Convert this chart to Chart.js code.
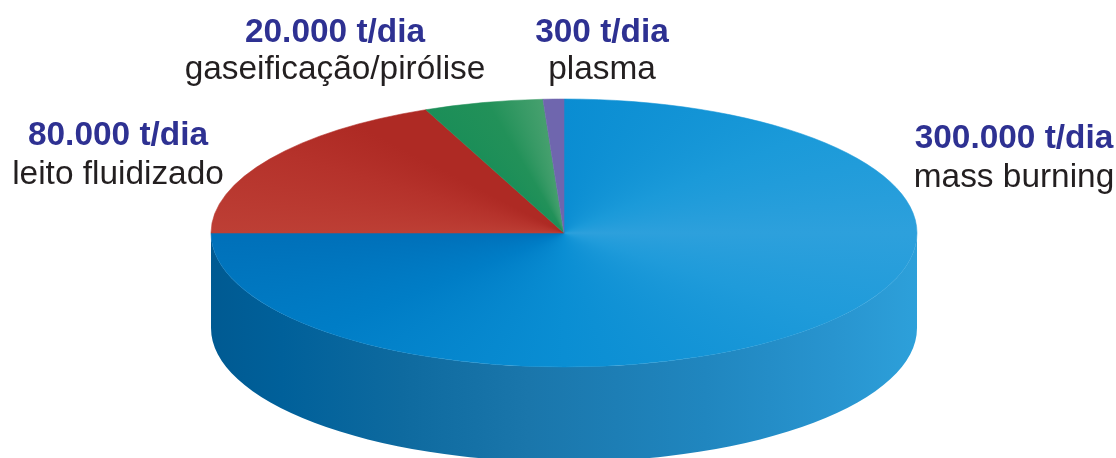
<!DOCTYPE html>
<html>
<head>
<meta charset="utf-8">
<style>
html,body{margin:0;padding:0;background:#fff;}
#wrap{width:1116px;height:458px;overflow:hidden;}
</style>
<script src="https://cdn.jsdelivr.net/npm/chart.js@4"></script>
</head>
<body>
<div id="wrap"><canvas id="c" width="1116" height="458"></canvas></div>
<script>
// Data
const categories = ["mass burning", "leito fluidizado", "gaseificação/pirólise", "plasma"];
const tonnageLabels = ["300.000 t/dia", "80.000 t/dia", "20.000 t/dia", "300 t/dia"];
const sliceShares = [75, 18.6, 5.45, 0.95];   // share of the drawn circle, percent

// Look
const CX = 564, CY = 233, RX = 353, RY = 134, DEPTH = 95;
const K = RY / RX;
const navy = "#2e3192", ink = "#231f20";
const labelFont = "'Liberation Sans', Arial, sans-serif";
// x centre, baseline of tonnage line, baseline of name line
const labelPos = [[1014,148,187],[118,145,184],[335,42,79],[602,42,79]];

function conic(ctx, stops){
  const g = ctx.createConicGradient(-Math.PI/2, CX, CY);
  stops.forEach(s => g.addColorStop(s[0], s[1]));
  return g;
}
const sliceStops = [
  [[0,"#0a8dd2"],[0.12,"#1b9ad9"],[0.25,"#2da0dc"],[0.36,"#1f9bda"],[0.5,"#0a8ed3"],[0.62,"#007dc6"],[0.75,"#0070b9"],[1,"#0070b9"]],
  [[0,"#bd3f35"],[0.75,"#bd3f35"],[0.85,"#b5322b"],[0.9,"#ae2a24"],[1,"#ae2a24"]],
  [[0,"#1b8e58"],[0.936,"#1b8e58"],[0.965,"#229159"],[0.98,"#389a66"],[0.9905,"#46a06e"],[1,"#46a06e"]],
  [[0,"#6f66ae"],[1,"#6f66ae"]]
];
const fill = c => conic(c.chart.ctx, sliceStops[c.dataIndex] || sliceStops[0]);

const pie3d = {
  id: "pie3d",
  beforeDatasetsDraw(chart){
    const ctx = chart.ctx;
    ctx.save();
    ctx.translate(CX, CY); ctx.scale(1, K); ctx.translate(-CX, -CY);
    // side wall of the front part of the first arc (it is the only one that reaches the front)
    const wall = ctx.createLinearGradient(CX - RX, 0, CX + RX, 0);
    [[0,"#005a92"],[0.1,"#00609a"],[0.27,"#0e6a9f"],[0.45,"#1a76ab"],[0.7,"#2086bf"],[0.88,"#2894cf"],[1,"#2da0da"]]
      .forEach(s => wall.addColorStop(s[0], s[1]));
    const d = DEPTH / K;
    const a = chart.getDatasetMeta(0).data[0];
    ctx.beginPath();
    ctx.arc(a.x, a.y, a.outerRadius, 0, Math.PI);
    ctx.arc(a.x, a.y + d, a.outerRadius, Math.PI, 0, true);
    ctx.closePath();
    ctx.fillStyle = wall;
    ctx.fill();
  },
  afterDatasetsDraw(chart){ chart.ctx.restore(); },
  afterDraw(chart){
    const ctx = chart.ctx;
    ctx.save();
    ctx.textAlign = "center";
    ctx.textBaseline = "alphabetic";
    categories.forEach((name, i) => {
      const p = labelPos[i];
      ctx.font = "bold 33.4px " + labelFont;
      ctx.fillStyle = navy;
      ctx.fillText(tonnageLabels[i], p[0], p[1]);
      ctx.font = "33.4px " + labelFont;
      ctx.fillStyle = ink;
      ctx.fillText(name, p[0], p[2]);
    });
    ctx.restore();
  }
};

new Chart(document.getElementById("c"), {
  type: "pie",
  data: {
    labels: categories,
    datasets: [{
      data: sliceShares,
      backgroundColor: fill,
      borderColor: fill,
      borderWidth: 0.8,
      radius: RX,
      clip: false
    }]
  },
  options: {
    responsive: false,
    animation: false,
    layout: { padding: { left: 12, top: 8, right: 0, bottom: 0 } },
    plugins: { legend: { display: false }, tooltip: { enabled: false } },
    events: []
  },
  plugins: [pie3d]
});
</script>
</body>
</html>
